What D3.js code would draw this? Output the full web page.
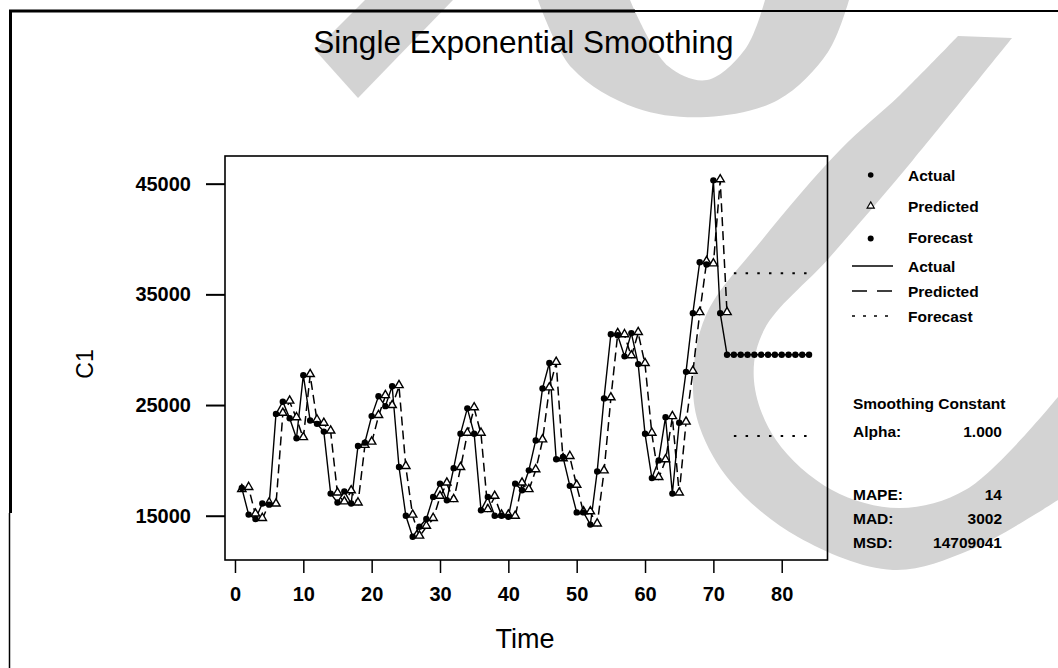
<!DOCTYPE html>
<html>
<head>
<meta charset="utf-8">
<script src="https://d3js.org/d3.v7.min.js"></script>
<style>
  body { margin: 0; background: #fff; }
  svg { display: block; font-family: "Liberation Sans", Arial, sans-serif; }
</style>
</head>
<body>
<svg></svg>
<script>
// observed series, periods 1..72
const actual = [
  17500, 15100, 14700, 16100, 16000, 24200, 25300, 23800, 22000, 27700,
  23600, 23300, 22600, 17000, 16200, 17200, 16100, 21300, 21600, 24000,
  25800, 24900, 26700, 19400, 15000, 13100, 14000, 14700, 16700, 17900,
  16400, 19300, 22400, 24700, 22400, 15500, 16700, 15000, 15000, 14900,
  17900, 17300, 19100, 21800, 26500, 28800, 20100, 20300, 17700, 15300,
  15300, 14200, 19000, 25600, 31400, 31300, 29400, 31500, 28700, 22400,
  18400, 20000, 23900, 17000, 23400, 28000, 33300, 37900, 37700, 45300,
  33300, 29550
]
// fitted values (alpha = 1)
const predicted = [
  17300, 17500, 15100, 14700, 16100, 16000, 24200, 25300, 23800, 22000,
  27700, 23600, 23300, 22600, 17000, 16200, 17200, 16100, 21300, 21600,
  24000, 25800, 24900, 26700, 19400, 15000, 13100, 14000, 14700, 16700,
  17900, 16400, 19300, 22400, 24700, 22400, 15500, 16700, 15000, 15000,
  14900, 17900, 17300, 19100, 21800, 26500, 28800, 20100, 20300, 17700,
  15300, 15300, 14200, 19000, 25600, 31400, 31300, 29400, 31500, 28700,
  22400, 18400, 20000, 23900, 17000, 23400, 28000, 33300, 37900, 37700,
  45300, 33300
]
const forecastTime = [73, 74, 75, 76, 77, 78, 79, 80, 81, 82, 83, 84]
const forecast = [29550, 29550, 29550, 29550, 29550, 29550, 29550, 29550, 29550, 29550, 29550, 29550]
const upper = [36900, 36900, 36900, 36900, 36900, 36900, 36900, 36900, 36900, 36900, 36900, 36900]
const lower = [22200, 22200, 22200, 22200, 22200, 22200, 22200, 22200, 22200, 22200, 22200, 22200]

const xTicks = [0, 10, 20, 30, 40, 50, 60, 70, 80]
const yTicks = [15000, 25000, 35000, 45000]
const stats = [["MAPE:", "14"], ["MAD:", "3002"], ["MSD:", "14709041"]]

const width = 1058, height = 668
const svg = d3.select('svg').attr('width', width).attr('height', height)
svg.append('rect').attr('width', width).attr('height', height).attr('fill', '#fff')

// grey watermark strokes behind the chart
const wm = svg.append('g').attr('fill', '#d3d3d3')
const curve = d3.line().curve(d3.curveCatmullRom)
const band = (outer, inner) => curve(outer) + curve(inner).replace(/^M/, 'L') + 'Z'
wm.append('path').attr('d', d3.line()([[365, 0], [453, 0], [358, 98], [315, 50]]) + 'Z')
wm.append('path').attr('d', band(
  [[538, 0], [572, 68], [636, 108], [707, 117], [778, 100], [828, 52], [849, 0]],
  [[765, 0], [746, 48], [707, 80], [668, 66], [630, 0]]))
wm.append('path').attr('d', band(
  [[958, 36], [900, 95], [840, 150], [762, 240], [706, 315], [693, 383], [700, 428], [731, 482], [798, 537], [893, 570], [970, 550], [1058, 500]],
  [[1058, 397], [967, 489], [900, 508], [832, 490], [776, 440], [754, 381], [764, 330], [830, 257], [913, 160], [1012, 38]]))

// page border (scanned)
svg.append('line').attr('x1', 9).attr('x2', 635).attr('y1', 11).attr('y2', 11).attr('stroke', '#000').attr('stroke-width', 3)
svg.append('line').attr('x1', 635).attr('x2', 1058).attr('y1', 11).attr('y2', 11).attr('stroke', '#000').attr('stroke-width', 2)
svg.append('line').attr('x1', 10.5).attr('x2', 10.5).attr('y1', 10).attr('y2', 513).attr('stroke', '#000').attr('stroke-width', 3)
svg.append('line').attr('x1', 9.5).attr('x2', 9.5).attr('y1', 513).attr('y2', 668).attr('stroke', '#000').attr('stroke-width', 1.5)

const plot = {left: 225, right: 827.5, top: 156, bottom: 560}
const x = d3.scaleLinear().domain([-1.46, 86.7]).range([plot.left, plot.right])
const y = d3.scaleLinear().domain([11000, 47500]).range([plot.bottom, plot.top])

// axes
const yAxis = svg.append('g').attr('transform', `translate(${plot.left},0)`)
  .call(d3.axisLeft(y).tickValues(yTicks).tickSize(19).tickPadding(15).tickFormat(d3.format('d')))
const xAxis = svg.append('g').attr('transform', `translate(0,${plot.bottom})`)
  .call(d3.axisBottom(x).tickValues(xTicks).tickSize(13).tickPadding(14))
svg.selectAll('.domain').remove()
yAxis.selectAll('line').attr('stroke-width', 2)
xAxis.selectAll('line').attr('stroke-width', 1.5)
svg.selectAll('.tick text').attr('font-size', 20).attr('font-weight', 'bold')
  .attr('font-family', '"Liberation Sans", Arial, sans-serif').attr('fill', '#000')

svg.append('rect')
  .attr('x', plot.left).attr('y', plot.top)
  .attr('width', plot.right - plot.left).attr('height', plot.bottom - plot.top)
  .attr('fill', 'none').attr('stroke', '#000').attr('stroke-width', 1.6)

// titles
svg.append('text').attr('x', 523.5).attr('y', 53).attr('text-anchor', 'middle')
  .attr('font-size', 31.5).text('Single Exponential Smoothing')
svg.append('text').attr('x', 525).attr('y', 648).attr('text-anchor', 'middle')
  .attr('font-size', 27).text('Time')
svg.append('text').attr('transform', 'translate(93,364) rotate(-90)').attr('text-anchor', 'middle')
  .attr('font-size', 23).text('C1')

// series
const g = svg.append('g')
const line = d3.line().x(d => x(d[0])).y(d => y(d[1]))
const actualPts = actual.map((v, i) => [i + 1, v])
const predPts = predicted.map((v, i) => [i + 1, v])
const fcPts = [actualPts[actualPts.length - 1]].concat(forecast.map((v, i) => [forecastTime[i], v]))

g.append('path').attr('d', line(predPts)).attr('fill', 'none').attr('stroke', '#000')
  .attr('stroke-width', 1.5).attr('stroke-dasharray', '9,5')
g.append('path').attr('d', line(actualPts)).attr('fill', 'none').attr('stroke', '#000').attr('stroke-width', 1.4)
g.append('path').attr('d', line(fcPts)).attr('fill', 'none').attr('stroke', '#000').attr('stroke-width', 1.4)
;[upper, lower].forEach(arr => {
  g.append('path').attr('d', line(arr.map((v, i) => [forecastTime[i], v])))
    .attr('fill', 'none').attr('stroke', '#000').attr('stroke-width', 2).attr('stroke-dasharray', '2.5,9.2')
})

const tri = d3.symbol().type(d3.symbolTriangle).size(30)
g.selectAll('.pred').data(predPts).enter().append('path')
  .attr('transform', d => `translate(${x(d[0])},${y(d[1]) - 1})`)
  .attr('d', tri).attr('fill', '#fff').attr('stroke', '#000').attr('stroke-width', 1.4)
g.selectAll('.act').data(actualPts).enter().append('circle')
  .attr('cx', d => x(d[0])).attr('cy', d => y(d[1])).attr('r', 3.2).attr('fill', '#000')
g.selectAll('.fc').data(forecast).enter().append('circle')
  .attr('cx', (d, i) => x(forecastTime[i])).attr('cy', d => y(d)).attr('r', 3.2).attr('fill', '#000')

// legend
const leg = svg.append('g').attr('font-size', 15.5).attr('font-weight', 'bold')
leg.append('circle').attr('cx', 870.7).attr('cy', 175).attr('r', 2.8)
leg.append('path').attr('transform', 'translate(870.7,206)').attr('d', d3.symbol().type(d3.symbolTriangle).size(22))
  .attr('fill', '#fff').attr('stroke', '#000').attr('stroke-width', 1.2)
leg.append('circle').attr('cx', 870.7).attr('cy', 238.5).attr('r', 3)
leg.append('line').attr('x1', 852).attr('x2', 893).attr('y1', 266).attr('y2', 266).attr('stroke', '#000').attr('stroke-width', 1.5)
leg.append('line').attr('x1', 852).attr('x2', 893).attr('y1', 291).attr('y2', 291).attr('stroke', '#000').attr('stroke-width', 1.5).attr('stroke-dasharray', '15,10')
leg.append('line').attr('x1', 852).attr('x2', 893).attr('y1', 316).attr('y2', 316).attr('stroke', '#000').attr('stroke-width', 1.5).attr('stroke-dasharray', '3,8')
const legLabels = [['Actual', 181], ['Predicted', 211.5], ['Forecast', 243], ['Actual', 271.5], ['Predicted', 296.5], ['Forecast', 321.5]]
legLabels.forEach(d => leg.append('text').attr('x', 908).attr('y', d[1]).text(d[0]))

// smoothing constant and accuracy measures
const info = svg.append('g').attr('font-size', 15.5).attr('font-weight', 'bold')
info.append('text').attr('x', 853).attr('y', 409).text('Smoothing Constant')
info.append('text').attr('x', 853).attr('y', 437).text('Alpha:')
info.append('text').attr('x', 1002).attr('y', 437).attr('text-anchor', 'end').text('1.000')
stats.forEach((d, i) => {
  info.append('text').attr('x', 853).attr('y', 500 + i * 24).text(d[0])
  info.append('text').attr('x', 1002).attr('y', 500 + i * 24).attr('text-anchor', 'end').text(d[1])
})
</script>
</body>
</html>
